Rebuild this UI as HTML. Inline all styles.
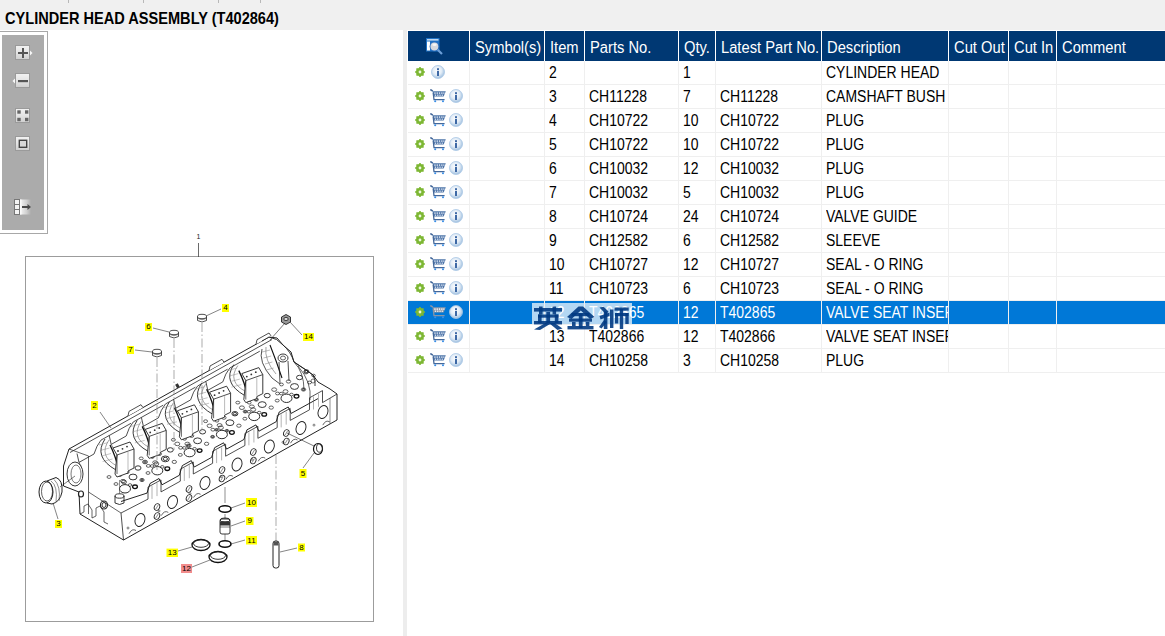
<!DOCTYPE html><html><head><meta charset="utf-8"><style>

*{margin:0;padding:0;box-sizing:border-box}
html,body{width:1165px;height:636px;overflow:hidden;background:#fff;font-family:"Liberation Sans",sans-serif;position:relative}
.abs{position:absolute}
#titlebar{left:0;top:0;width:1165px;height:30px;background:#f0f0f0}
.tick{position:absolute;top:0;width:1px;height:3px;background:#b8b8b8}
#title{position:absolute;left:5px;top:9px;font-size:16.5px;font-weight:bold;color:#000;white-space:nowrap;transform:scaleX(0.883);transform-origin:0 0}
#leftpanel{left:0;top:30px;width:403px;height:606px;background:#fff}
#divider{left:403px;top:30px;width:4px;height:606px;background:#ededed}
#rightpanel{left:407px;top:30px;width:758px;height:606px;background:#fff}
#tbout{left:0;top:31px;width:48px;height:203px;border:1px solid #a8a8a8;border-left:none;background:#fff}
#tbin{left:2px;top:35px;width:42px;height:195px;background:#ababab}
.hdr{position:absolute;top:31px;height:30px;background:#003873;color:#fff;font-size:14.5px;white-space:nowrap;overflow:hidden}
.hdr span{position:absolute;left:5px;top:7.5px;font-size:16px;transform:scaleX(0.92);transform-origin:0 0}
.vl{position:absolute;width:1px;background:#efefef}
.hl{position:absolute;height:1px;background:#efefef}
.cell{position:absolute;height:23px;font-size:14.5px;color:#000;white-space:nowrap;overflow:hidden;line-height:23px}
.cell span{position:absolute;left:5px;top:-0.5px;font-size:15.8px;transform:scaleX(0.885);transform-origin:0 0}
.sel{position:absolute;left:408px;width:757px;height:23px;background:#0078d7}
.ic{position:absolute;line-height:0}
.ic svg{display:block}

</style></head><body>
<svg width="0" height="0" style="position:absolute"><defs><radialGradient id="ig" cx="45%" cy="40%" r="60%"><stop offset="0" stop-color="#ffffff"/><stop offset=".55" stop-color="#e2ecf6"/><stop offset="1" stop-color="#9fbfdf"/></radialGradient></defs></svg>
<div id="titlebar" class="abs">
<div class="tick" style="left:68px"></div>
<div class="tick" style="left:143px"></div>
<div class="tick" style="left:218px"></div>
<div class="tick" style="left:260px"></div>
<div id="title">CYLINDER HEAD ASSEMBLY (T402864)</div></div>
<div id="leftpanel" class="abs"></div><div id="divider" class="abs"></div><div id="rightpanel" class="abs"></div>
<div id="tbout" class="abs"></div><div id="tbin" class="abs"></div>

<svg class="abs" style="left:0;top:30px" width="48" height="205" viewBox="0 30 48 205">
<defs>
<linearGradient id="tbg" x1="0" y1="0" x2="0" y2="1"><stop offset="0" stop-color="#f2f2f2"/><stop offset="0.5" stop-color="#e4e4e4"/><stop offset="1" stop-color="#cfcfcf"/></linearGradient>
<linearGradient id="arg" x1="0" y1="0" x2="1" y2="0"><stop offset="0" stop-color="#f4f4f4"/><stop offset="0.6" stop-color="#d0d0d0"/><stop offset="1" stop-color="#ababab"/></linearGradient>
</defs>
<rect x="15.5" y="45.5" width="14" height="14" fill="url(#tbg)" stroke="#9a9a9a" stroke-width="1"/>
<path d="M30,50.5 L32.5,53 L30,55.5 Z" fill="#f8f8f8"/>
<rect x="18" y="52" width="10" height="2" fill="#555"/><rect x="22" y="48" width="2" height="10" fill="#555"/>
<rect x="15.5" y="73.5" width="14" height="14" fill="url(#tbg)" stroke="#9a9a9a" stroke-width="1"/>
<path d="M15,78.5 L12.5,81 L15,83.5 Z" fill="#f8f8f8"/>
<rect x="18" y="80" width="10" height="2.2" fill="#555"/>
<rect x="15.5" y="108.5" width="14" height="14" fill="url(#tbg)" stroke="#9a9a9a" stroke-width="1"/>
<rect x="17.3" y="110.3" width="3.4" height="3.4" fill="#666"/><rect x="25" y="110.3" width="3.4" height="3.4" fill="#666"/>
<rect x="17.3" y="117.8" width="3.4" height="3.4" fill="#666"/><rect x="25" y="117.8" width="3.4" height="3.4" fill="#666"/>
<rect x="15.5" y="136.5" width="14" height="14" fill="url(#tbg)" stroke="#9a9a9a" stroke-width="1"/>
<rect x="19.3" y="140.3" width="7.4" height="7" fill="#d8d8d8" stroke="#444" stroke-width="1.4"/>
<rect x="14.5" y="199.5" width="5" height="15" fill="#f4f4f4" stroke="#777" stroke-width="1"/>
<line x1="14.5" y1="204.5" x2="19.5" y2="204.5" stroke="#777"/><line x1="14.5" y1="209.5" x2="19.5" y2="209.5" stroke="#777"/>
<rect x="20" y="199.5" width="11" height="15" fill="url(#arg)"/>
<rect x="20" y="199.5" width="1.5" height="15" fill="#fafafa"/>
<rect x="22" y="206" width="6" height="2" fill="#4a4a4a"/><path d="M27.5,204 L31,207 L27.5,210 Z" fill="#4a4a4a"/>
</svg>

<svg class="abs" style="left:0;top:0" width="403" height="636" viewBox="0 0 403 636"><rect x="25.5" y="256.5" width="348" height="365" fill="none" stroke="#9c9c9c" stroke-width="1"/><text x="198.5" y="238.5" font-size="7" text-anchor="middle" fill="#222" font-family="Liberation Sans">1</text><line x1="198.5" y1="243" x2="198.5" y2="257" stroke="#444" stroke-width="0.8" /><polygon points="69,449 63.5,466 63.5,486 79,492 80,514 123.5,540 337,420 337,394 330,389 318,382 313,375 306,370 294,362 291,352 283,345 277,338 269,337 69,449" fill="#fff" stroke="#222" stroke-width="1.0"/><line x1="70" y1="452.5" x2="272" y2="339.5" stroke="#222" stroke-width="0.8" /><polyline points="121,501.5 147,493.1 150,483.5 159,478.5 162,484.8 179.3,475.3 182.3,465.6 191.3,460.6 194.3,467 211.6,457.4 214.6,447.7 223.6,442.8 226.6,449.1 243.9,439.5 246.9,429.9 255.9,424.9 258.9,431.2 276.2,421.7 279.2,412 288.2,407 291.2,413.4 318,398.6" fill="none" stroke="#1a1a1a" stroke-width="0.95"/><polyline points="121,513 148,499.1 148,487.1 161,479.9 161,491.9 180.3,481.2 180.3,469.2 193.3,462 193.3,474 212.6,463.3 212.6,451.3 225.6,444.2 225.6,456.2 244.9,445.5 244.9,433.5 257.9,426.3 257.9,438.3 277.2,427.6 277.2,415.6 290.2,408.4 290.2,420.4 309.5,409.8 309.5,397.8 322.5,390.6 322.5,402.6 337,394" fill="none" stroke="#222" stroke-width="0.8"/><line x1="152" y1="485.9" x2="152" y2="498.9" stroke="#666" stroke-width="0.5" /><line x1="157" y1="483.1" x2="157" y2="496.1" stroke="#666" stroke-width="0.5" /><line x1="184.3" y1="468" x2="184.3" y2="481" stroke="#666" stroke-width="0.5" /><line x1="189.3" y1="465.2" x2="189.3" y2="478.2" stroke="#666" stroke-width="0.5" /><line x1="216.6" y1="450.1" x2="216.6" y2="463.1" stroke="#666" stroke-width="0.5" /><line x1="221.6" y1="447.4" x2="221.6" y2="460.4" stroke="#666" stroke-width="0.5" /><line x1="248.9" y1="432.3" x2="248.9" y2="445.3" stroke="#666" stroke-width="0.5" /><line x1="253.9" y1="429.5" x2="253.9" y2="442.5" stroke="#666" stroke-width="0.5" /><line x1="281.2" y1="414.4" x2="281.2" y2="427.4" stroke="#666" stroke-width="0.5" /><line x1="286.2" y1="411.6" x2="286.2" y2="424.6" stroke="#666" stroke-width="0.5" /><line x1="313.5" y1="396.5" x2="313.5" y2="409.5" stroke="#666" stroke-width="0.5" /><line x1="318.5" y1="393.8" x2="318.5" y2="406.8" stroke="#666" stroke-width="0.5" /><path d="M129,533.7 Q132,528 136,530.5" fill="none" stroke="#222" stroke-width="0.7"/><path d="M161.3,515.6 Q164.3,509.9 168.3,512.4" fill="none" stroke="#222" stroke-width="0.7"/><path d="M193.6,497.5 Q196.6,491.8 200.6,494.3" fill="none" stroke="#222" stroke-width="0.7"/><path d="M225.9,479.4 Q228.9,473.7 232.9,476.2" fill="none" stroke="#222" stroke-width="0.7"/><path d="M258.2,461.3 Q261.2,455.6 265.2,458.1" fill="none" stroke="#222" stroke-width="0.7"/><path d="M290.5,443.2 Q293.5,437.5 297.5,440" fill="none" stroke="#222" stroke-width="0.7"/><path d="M322.8,425.1 Q325.8,419.4 329.8,421.9" fill="none" stroke="#222" stroke-width="0.7"/><line x1="121" y1="513" x2="123.5" y2="540" stroke="#222" stroke-width="0.8" /><line x1="88.5" y1="456" x2="88.5" y2="514" stroke="#222" stroke-width="0.7" /><line x1="69" y1="449" x2="88.5" y2="456" stroke="#222" stroke-width="0.7" /><polyline points="80,514 84,512 84,506 88,504 92,510 92,518 96,516 96,508 100,506 104,512 104,522 108,524" fill="none" stroke="#222" stroke-width="0.7"/><line x1="88.5" y1="492" x2="121" y2="513" stroke="#222" stroke-width="0.7" /><ellipse cx="81" cy="494" rx="2.5" ry="3" fill="#fff" stroke="#222" stroke-width="1.2"/><ellipse cx="104" cy="505" rx="3.5" ry="4" fill="none" stroke="#222" stroke-width="1.1"/><ellipse cx="104" cy="505" rx="2" ry="2.5" fill="none" stroke="#222" stroke-width="0.9"/><ellipse cx="75" cy="474" rx="8" ry="12" fill="none" stroke="#222" stroke-width="0.9"/><ellipse cx="76" cy="474" rx="5" ry="9" fill="none" stroke="#222" stroke-width="0.6"/><ellipse cx="140" cy="520" rx="4.8" ry="6.6" transform="rotate(20 140 520)" fill="none" stroke="#222" stroke-width="0.95"/><ellipse cx="172.5" cy="502" rx="4.8" ry="6.6" transform="rotate(20 172.5 502)" fill="none" stroke="#222" stroke-width="0.95"/><ellipse cx="205" cy="483" rx="4.8" ry="6.6" transform="rotate(20 205 483)" fill="none" stroke="#222" stroke-width="0.95"/><ellipse cx="237" cy="464.5" rx="4.8" ry="6.6" transform="rotate(20 237 464.5)" fill="none" stroke="#222" stroke-width="0.95"/><ellipse cx="269.3" cy="446.5" rx="4.8" ry="6.6" transform="rotate(20 269.3 446.5)" fill="none" stroke="#222" stroke-width="0.95"/><ellipse cx="301" cy="428" rx="4.8" ry="6.6" transform="rotate(20 301 428)" fill="none" stroke="#222" stroke-width="0.95"/><ellipse cx="323" cy="412" rx="4.8" ry="6.6" transform="rotate(20 323 412)" fill="none" stroke="#222" stroke-width="0.95"/><ellipse cx="157" cy="507" rx="2.6" ry="3.4" transform="rotate(25 157 507)" fill="none" stroke="#222" stroke-width="0.9"/><line x1="155.8" y1="509" x2="158.2" y2="505" stroke="#444" stroke-width="0.6" /><ellipse cx="157" cy="516" rx="2.6" ry="3.4" transform="rotate(25 157 516)" fill="none" stroke="#222" stroke-width="0.9"/><line x1="155.8" y1="518" x2="158.2" y2="514" stroke="#444" stroke-width="0.6" /><ellipse cx="189" cy="489" rx="2.6" ry="3.4" transform="rotate(25 189 489)" fill="none" stroke="#222" stroke-width="0.9"/><line x1="187.8" y1="491" x2="190.2" y2="487" stroke="#444" stroke-width="0.6" /><ellipse cx="189" cy="498" rx="2.6" ry="3.4" transform="rotate(25 189 498)" fill="none" stroke="#222" stroke-width="0.9"/><line x1="187.8" y1="500" x2="190.2" y2="496" stroke="#444" stroke-width="0.6" /><ellipse cx="222" cy="470" rx="2.6" ry="3.4" transform="rotate(25 222 470)" fill="none" stroke="#222" stroke-width="0.9"/><line x1="220.8" y1="472" x2="223.2" y2="468" stroke="#444" stroke-width="0.6" /><ellipse cx="222" cy="478.5" rx="2.6" ry="3.4" transform="rotate(25 222 478.5)" fill="none" stroke="#222" stroke-width="0.9"/><line x1="220.8" y1="480.5" x2="223.2" y2="476.5" stroke="#444" stroke-width="0.6" /><ellipse cx="253.3" cy="452" rx="2.6" ry="3.4" transform="rotate(25 253.3 452)" fill="none" stroke="#222" stroke-width="0.9"/><line x1="252.1" y1="454" x2="254.5" y2="450" stroke="#444" stroke-width="0.6" /><ellipse cx="253.3" cy="460.5" rx="2.6" ry="3.4" transform="rotate(25 253.3 460.5)" fill="none" stroke="#222" stroke-width="0.9"/><line x1="252.1" y1="462.5" x2="254.5" y2="458.5" stroke="#444" stroke-width="0.6" /><ellipse cx="286.3" cy="433" rx="2.6" ry="3.4" transform="rotate(25 286.3 433)" fill="none" stroke="#222" stroke-width="0.9"/><line x1="285.1" y1="435" x2="287.5" y2="431" stroke="#444" stroke-width="0.6" /><ellipse cx="286.3" cy="441.5" rx="2.6" ry="3.4" transform="rotate(25 286.3 441.5)" fill="none" stroke="#222" stroke-width="0.9"/><line x1="285.1" y1="443.5" x2="287.5" y2="439.5" stroke="#444" stroke-width="0.6" /><circle cx="128" cy="528" r="1" fill="none" stroke="#333" stroke-width="0.6"/><circle cx="159" cy="510.9" r="1" fill="none" stroke="#333" stroke-width="0.6"/><circle cx="190" cy="493.7" r="1" fill="none" stroke="#333" stroke-width="0.6"/><circle cx="221" cy="476.6" r="1" fill="none" stroke="#333" stroke-width="0.6"/><circle cx="252" cy="459.4" r="1" fill="none" stroke="#333" stroke-width="0.6"/><circle cx="283" cy="442.3" r="1" fill="none" stroke="#333" stroke-width="0.6"/><circle cx="314" cy="425.1" r="1" fill="none" stroke="#333" stroke-width="0.6"/><ellipse cx="124" cy="482" rx="2.5" ry="1.8" fill="none" stroke="#222" stroke-width="0.7"/><ellipse cx="133" cy="477" rx="4" ry="2.9" fill="none" stroke="#222" stroke-width="0.9"/><ellipse cx="142" cy="480" rx="2.2" ry="1.6" fill="none" stroke="#222" stroke-width="0.7"/><ellipse cx="142" cy="480" rx="1.3" ry="0.9" fill="none" stroke="#222" stroke-width="0.9"/><ellipse cx="127" cy="472" rx="2.2" ry="1.6" fill="none" stroke="#222" stroke-width="0.7"/><ellipse cx="138" cy="468" rx="3" ry="2.2" fill="none" stroke="#222" stroke-width="0.9"/><ellipse cx="148" cy="473" rx="2" ry="1.4" fill="none" stroke="#222" stroke-width="0.7"/><ellipse cx="120" cy="475" rx="1.9" ry="1.4" fill="none" stroke="#222" stroke-width="0.7"/><ellipse cx="145" cy="462" rx="2.5" ry="1.8" fill="none" stroke="#222" stroke-width="0.7"/><ellipse cx="145" cy="462" rx="1.4" ry="1" fill="none" stroke="#222" stroke-width="0.9"/><ellipse cx="116" cy="484" rx="2" ry="1.4" fill="none" stroke="#222" stroke-width="0.7"/><ellipse cx="130" cy="485" rx="1.8" ry="1.3" fill="none" stroke="#222" stroke-width="0.7"/><ellipse cx="152" cy="466" rx="1.8" ry="1.3" fill="none" stroke="#222" stroke-width="0.7"/><ellipse cx="156.3" cy="463.9" rx="2.5" ry="1.8" fill="none" stroke="#222" stroke-width="0.7"/><ellipse cx="165.3" cy="458.9" rx="4" ry="2.9" fill="none" stroke="#222" stroke-width="0.9"/><ellipse cx="165.3" cy="458.9" rx="2.2" ry="1.6" fill="none" stroke="#222" stroke-width="0.9"/><ellipse cx="174.3" cy="461.9" rx="2.2" ry="1.6" fill="none" stroke="#222" stroke-width="0.7"/><ellipse cx="159.3" cy="453.9" rx="2.2" ry="1.6" fill="none" stroke="#222" stroke-width="0.7"/><ellipse cx="170.3" cy="449.9" rx="3" ry="2.2" fill="none" stroke="#222" stroke-width="0.9"/><ellipse cx="180.3" cy="454.9" rx="2" ry="1.4" fill="none" stroke="#222" stroke-width="0.7"/><ellipse cx="152.3" cy="456.9" rx="1.9" ry="1.4" fill="none" stroke="#222" stroke-width="0.7"/><ellipse cx="152.3" cy="456.9" rx="1" ry="0.8" fill="none" stroke="#222" stroke-width="0.9"/><ellipse cx="177.3" cy="443.9" rx="2.5" ry="1.8" fill="none" stroke="#222" stroke-width="0.7"/><ellipse cx="148.3" cy="465.9" rx="2" ry="1.4" fill="none" stroke="#222" stroke-width="0.7"/><ellipse cx="162.3" cy="466.9" rx="1.8" ry="1.3" fill="none" stroke="#222" stroke-width="0.7"/><ellipse cx="184.3" cy="447.9" rx="1.8" ry="1.3" fill="none" stroke="#222" stroke-width="0.7"/><ellipse cx="188.6" cy="445.8" rx="2.5" ry="1.8" fill="none" stroke="#222" stroke-width="0.7"/><ellipse cx="188.6" cy="445.8" rx="1.4" ry="1" fill="none" stroke="#222" stroke-width="0.9"/><ellipse cx="197.6" cy="440.8" rx="4" ry="2.9" fill="none" stroke="#222" stroke-width="0.9"/><ellipse cx="206.6" cy="443.8" rx="2.2" ry="1.6" fill="none" stroke="#222" stroke-width="0.7"/><ellipse cx="191.6" cy="435.8" rx="2.2" ry="1.6" fill="none" stroke="#222" stroke-width="0.7"/><ellipse cx="202.6" cy="431.8" rx="3" ry="2.2" fill="none" stroke="#222" stroke-width="0.9"/><ellipse cx="212.6" cy="436.8" rx="2" ry="1.4" fill="none" stroke="#222" stroke-width="0.7"/><ellipse cx="212.6" cy="436.8" rx="1.1" ry="0.8" fill="none" stroke="#222" stroke-width="0.9"/><ellipse cx="184.6" cy="438.8" rx="1.9" ry="1.4" fill="none" stroke="#222" stroke-width="0.7"/><ellipse cx="209.6" cy="425.8" rx="2.5" ry="1.8" fill="none" stroke="#222" stroke-width="0.7"/><ellipse cx="180.6" cy="447.8" rx="2" ry="1.4" fill="none" stroke="#222" stroke-width="0.7"/><ellipse cx="194.6" cy="448.8" rx="1.8" ry="1.3" fill="none" stroke="#222" stroke-width="0.7"/><ellipse cx="216.6" cy="429.8" rx="1.8" ry="1.3" fill="none" stroke="#222" stroke-width="0.7"/><ellipse cx="216.6" cy="429.8" rx="1" ry="0.7" fill="none" stroke="#222" stroke-width="0.9"/><ellipse cx="220.9" cy="427.7" rx="2.5" ry="1.8" fill="none" stroke="#222" stroke-width="0.7"/><ellipse cx="229.9" cy="422.7" rx="4" ry="2.9" fill="none" stroke="#222" stroke-width="0.9"/><ellipse cx="238.9" cy="425.7" rx="2.2" ry="1.6" fill="none" stroke="#222" stroke-width="0.7"/><ellipse cx="223.9" cy="417.7" rx="2.2" ry="1.6" fill="none" stroke="#222" stroke-width="0.7"/><ellipse cx="234.9" cy="413.7" rx="3" ry="2.2" fill="none" stroke="#222" stroke-width="0.9"/><ellipse cx="234.9" cy="413.7" rx="1.7" ry="1.2" fill="none" stroke="#222" stroke-width="0.9"/><ellipse cx="244.9" cy="418.7" rx="2" ry="1.4" fill="none" stroke="#222" stroke-width="0.7"/><ellipse cx="216.9" cy="420.7" rx="1.9" ry="1.4" fill="none" stroke="#222" stroke-width="0.7"/><ellipse cx="241.9" cy="407.7" rx="2.5" ry="1.8" fill="none" stroke="#222" stroke-width="0.7"/><ellipse cx="212.9" cy="429.7" rx="2" ry="1.4" fill="none" stroke="#222" stroke-width="0.7"/><ellipse cx="226.9" cy="430.7" rx="1.8" ry="1.3" fill="none" stroke="#222" stroke-width="0.7"/><ellipse cx="226.9" cy="430.7" rx="1" ry="0.7" fill="none" stroke="#222" stroke-width="0.9"/><ellipse cx="248.9" cy="411.7" rx="1.8" ry="1.3" fill="none" stroke="#222" stroke-width="0.7"/><ellipse cx="253.2" cy="409.6" rx="2.5" ry="1.8" fill="none" stroke="#222" stroke-width="0.7"/><ellipse cx="262.2" cy="404.6" rx="4" ry="2.9" fill="none" stroke="#222" stroke-width="0.9"/><ellipse cx="271.2" cy="407.6" rx="2.2" ry="1.6" fill="none" stroke="#222" stroke-width="0.7"/><ellipse cx="256.2" cy="399.6" rx="2.2" ry="1.6" fill="none" stroke="#222" stroke-width="0.7"/><ellipse cx="256.2" cy="399.6" rx="1.3" ry="0.9" fill="none" stroke="#222" stroke-width="0.9"/><ellipse cx="267.2" cy="395.6" rx="3" ry="2.2" fill="none" stroke="#222" stroke-width="0.9"/><ellipse cx="277.2" cy="400.6" rx="2" ry="1.4" fill="none" stroke="#222" stroke-width="0.7"/><ellipse cx="249.2" cy="402.6" rx="1.9" ry="1.4" fill="none" stroke="#222" stroke-width="0.7"/><ellipse cx="274.2" cy="389.6" rx="2.5" ry="1.8" fill="none" stroke="#222" stroke-width="0.7"/><ellipse cx="245.2" cy="411.6" rx="2" ry="1.4" fill="none" stroke="#222" stroke-width="0.7"/><ellipse cx="245.2" cy="411.6" rx="1.1" ry="0.8" fill="none" stroke="#222" stroke-width="0.9"/><ellipse cx="259.2" cy="412.6" rx="1.8" ry="1.3" fill="none" stroke="#222" stroke-width="0.7"/><ellipse cx="281.2" cy="393.6" rx="1.8" ry="1.3" fill="none" stroke="#222" stroke-width="0.7"/><ellipse cx="285.5" cy="391.5" rx="2.5" ry="1.8" fill="none" stroke="#222" stroke-width="0.7"/><ellipse cx="294.5" cy="386.5" rx="4" ry="2.9" fill="none" stroke="#222" stroke-width="0.9"/><ellipse cx="303.5" cy="389.5" rx="2.2" ry="1.6" fill="none" stroke="#222" stroke-width="0.7"/><ellipse cx="303.5" cy="389.5" rx="1.3" ry="0.9" fill="none" stroke="#222" stroke-width="0.9"/><ellipse cx="288.5" cy="381.5" rx="2.2" ry="1.6" fill="none" stroke="#222" stroke-width="0.7"/><ellipse cx="299.5" cy="377.5" rx="3" ry="2.2" fill="none" stroke="#222" stroke-width="0.9"/><ellipse cx="309.5" cy="382.5" rx="2" ry="1.4" fill="none" stroke="#222" stroke-width="0.7"/><ellipse cx="281.5" cy="384.5" rx="1.9" ry="1.4" fill="none" stroke="#222" stroke-width="0.7"/><ellipse cx="306.5" cy="371.5" rx="2.5" ry="1.8" fill="none" stroke="#222" stroke-width="0.7"/><ellipse cx="306.5" cy="371.5" rx="1.4" ry="1" fill="none" stroke="#222" stroke-width="0.9"/><ellipse cx="277.5" cy="393.5" rx="2" ry="1.4" fill="none" stroke="#222" stroke-width="0.7"/><ellipse cx="291.5" cy="394.5" rx="1.8" ry="1.3" fill="none" stroke="#222" stroke-width="0.7"/><ellipse cx="313.5" cy="375.5" rx="1.8" ry="1.3" fill="none" stroke="#222" stroke-width="0.7"/><ellipse cx="125" cy="488.8" rx="5.5" ry="4.2" fill="#fff" stroke="#222" stroke-width="0.95"/><ellipse cx="135" cy="486.8" rx="2.4" ry="1.8" fill="#fff" stroke="#111" stroke-width="1.3"/><ellipse cx="157.3" cy="470.7" rx="5.5" ry="4.2" fill="#fff" stroke="#222" stroke-width="0.95"/><ellipse cx="167.3" cy="468.7" rx="2.4" ry="1.8" fill="#fff" stroke="#111" stroke-width="1.3"/><ellipse cx="189.6" cy="452.6" rx="5.5" ry="4.2" fill="#fff" stroke="#222" stroke-width="0.95"/><ellipse cx="199.6" cy="450.6" rx="2.4" ry="1.8" fill="#fff" stroke="#111" stroke-width="1.3"/><ellipse cx="221.9" cy="434.5" rx="5.5" ry="4.2" fill="#fff" stroke="#222" stroke-width="0.95"/><ellipse cx="231.9" cy="432.5" rx="2.4" ry="1.8" fill="#fff" stroke="#111" stroke-width="1.3"/><ellipse cx="254.2" cy="416.4" rx="5.5" ry="4.2" fill="#fff" stroke="#222" stroke-width="0.95"/><ellipse cx="264.2" cy="414.4" rx="2.4" ry="1.8" fill="#fff" stroke="#111" stroke-width="1.3"/><ellipse cx="286.5" cy="398.3" rx="5.5" ry="4.2" fill="#fff" stroke="#222" stroke-width="0.95"/><ellipse cx="296.5" cy="396.3" rx="2.4" ry="1.8" fill="#fff" stroke="#111" stroke-width="1.3"/><polyline points="77,453.5 79,462.4 94,454 97,446.3 101,440.1 131,423.3" fill="none" stroke="#222" stroke-width="0.8"/><line x1="79" y1="462.4" x2="81" y2="466.3" stroke="#222" stroke-width="0.6" /><path d="M105,439 Q93,457 116,470" fill="none" stroke="#222" stroke-width="0.9"/><path d="M109,440 Q98,456 117,466" fill="none" stroke="#666" stroke-width="0.6"/><path d="M110,445 Q116,457 118,468" fill="none" stroke="#111" stroke-width="1.3"/><line x1="99" y1="445" x2="108" y2="442.5" stroke="#888" stroke-width="0.5" /><line x1="100.2" y1="450.5" x2="109.5" y2="448" stroke="#888" stroke-width="0.5" /><line x1="101.4" y1="456" x2="111" y2="453.5" stroke="#888" stroke-width="0.5" /><line x1="102.6" y1="461.5" x2="112.5" y2="459" stroke="#888" stroke-width="0.5" /><polygon points="117,455 113,448 130,442 134,449 134,468 128,471 128,473 117,477 115,474" fill="#fff" stroke="#222" stroke-width="0.9"/><line x1="117" y1="455" x2="134" y2="449" stroke="#222" stroke-width="0.8" /><line x1="117" y1="455" x2="117" y2="474" stroke="#222" stroke-width="0.7" /><line x1="128" y1="452" x2="128" y2="470" stroke="#777" stroke-width="0.5" /><circle cx="118" cy="451" r="0.9" fill="#333"/><circle cx="122.5" cy="448.8" r="0.9" fill="#333"/><circle cx="127" cy="446.6" r="0.9" fill="#333"/><ellipse cx="123" cy="481" rx="2.5" ry="1.6" fill="none" stroke="#222" stroke-width="0.7"/><ellipse cx="109" cy="477" rx="2" ry="1.4" fill="none" stroke="#222" stroke-width="0.7"/><polyline points="109.2,435.5 111.2,444.4 126.2,436 129.2,428.3 133.2,422 163.2,405.2" fill="none" stroke="#222" stroke-width="0.8"/><line x1="111.2" y1="444.4" x2="113.2" y2="448.2" stroke="#222" stroke-width="0.6" /><path d="M137.2,420.4 Q125.2,438.4 148.2,451.4" fill="none" stroke="#222" stroke-width="0.9"/><path d="M141.2,421.4 Q130.2,437.4 149.2,447.4" fill="none" stroke="#666" stroke-width="0.6"/><path d="M142.2,426.4 Q148.2,438.4 150.2,449.4" fill="none" stroke="#111" stroke-width="1.3"/><line x1="131.2" y1="426.4" x2="140.2" y2="423.9" stroke="#888" stroke-width="0.5" /><line x1="132.4" y1="431.9" x2="141.7" y2="429.4" stroke="#888" stroke-width="0.5" /><line x1="133.6" y1="437.4" x2="143.2" y2="434.9" stroke="#888" stroke-width="0.5" /><line x1="134.8" y1="442.9" x2="144.7" y2="440.4" stroke="#888" stroke-width="0.5" /><polygon points="149.2,436.4 145.2,429.4 162.2,423.4 166.2,430.4 166.2,449.4 160.2,452.4 160.2,454.4 149.2,458.4 147.2,455.4" fill="#fff" stroke="#222" stroke-width="0.9"/><line x1="149.2" y1="436.4" x2="166.2" y2="430.4" stroke="#222" stroke-width="0.8" /><line x1="149.2" y1="436.4" x2="149.2" y2="455.4" stroke="#222" stroke-width="0.7" /><line x1="160.2" y1="433.4" x2="160.2" y2="451.4" stroke="#777" stroke-width="0.5" /><circle cx="150.2" cy="432.4" r="0.9" fill="#333"/><circle cx="154.7" cy="430.2" r="0.9" fill="#333"/><circle cx="159.2" cy="428" r="0.9" fill="#333"/><ellipse cx="155.2" cy="462.4" rx="2.5" ry="1.6" fill="none" stroke="#222" stroke-width="0.7"/><ellipse cx="141.2" cy="458.4" rx="2" ry="1.4" fill="none" stroke="#222" stroke-width="0.7"/><polyline points="141.4,417.5 143.4,426.3 158.4,417.9 161.4,410.3 165.4,404 195.4,387.2" fill="none" stroke="#222" stroke-width="0.8"/><line x1="143.4" y1="426.3" x2="145.4" y2="430.2" stroke="#222" stroke-width="0.6" /><path d="M169.4,401.8 Q157.4,419.8 180.4,432.8" fill="none" stroke="#222" stroke-width="0.9"/><path d="M173.4,402.8 Q162.4,418.8 181.4,428.8" fill="none" stroke="#666" stroke-width="0.6"/><path d="M174.4,407.8 Q180.4,419.8 182.4,430.8" fill="none" stroke="#111" stroke-width="1.3"/><line x1="163.4" y1="407.8" x2="172.4" y2="405.3" stroke="#888" stroke-width="0.5" /><line x1="164.6" y1="413.3" x2="173.9" y2="410.8" stroke="#888" stroke-width="0.5" /><line x1="165.8" y1="418.8" x2="175.4" y2="416.3" stroke="#888" stroke-width="0.5" /><line x1="167" y1="424.3" x2="176.9" y2="421.8" stroke="#888" stroke-width="0.5" /><polygon points="181.4,417.8 177.4,410.8 194.4,404.8 198.4,411.8 198.4,430.8 192.4,433.8 192.4,435.8 181.4,439.8 179.4,436.8" fill="#fff" stroke="#222" stroke-width="0.9"/><line x1="181.4" y1="417.8" x2="198.4" y2="411.8" stroke="#222" stroke-width="0.8" /><line x1="181.4" y1="417.8" x2="181.4" y2="436.8" stroke="#222" stroke-width="0.7" /><line x1="192.4" y1="414.8" x2="192.4" y2="432.8" stroke="#777" stroke-width="0.5" /><circle cx="182.4" cy="413.8" r="0.9" fill="#333"/><circle cx="186.9" cy="411.6" r="0.9" fill="#333"/><circle cx="191.4" cy="409.4" r="0.9" fill="#333"/><ellipse cx="187.4" cy="443.8" rx="2.5" ry="1.6" fill="none" stroke="#222" stroke-width="0.7"/><ellipse cx="173.4" cy="439.8" rx="2" ry="1.4" fill="none" stroke="#222" stroke-width="0.7"/><polyline points="173.6,399.4 175.6,408.3 190.6,399.9 193.6,392.2 197.6,386 227.6,369.2" fill="none" stroke="#222" stroke-width="0.8"/><line x1="175.6" y1="408.3" x2="177.6" y2="412.2" stroke="#222" stroke-width="0.6" /><path d="M201.6,383.2 Q189.6,401.2 212.6,414.2" fill="none" stroke="#222" stroke-width="0.9"/><path d="M205.6,384.2 Q194.6,400.2 213.6,410.2" fill="none" stroke="#666" stroke-width="0.6"/><path d="M206.6,389.2 Q212.6,401.2 214.6,412.2" fill="none" stroke="#111" stroke-width="1.3"/><line x1="195.6" y1="389.2" x2="204.6" y2="386.7" stroke="#888" stroke-width="0.5" /><line x1="196.8" y1="394.7" x2="206.1" y2="392.2" stroke="#888" stroke-width="0.5" /><line x1="198" y1="400.2" x2="207.6" y2="397.7" stroke="#888" stroke-width="0.5" /><line x1="199.2" y1="405.7" x2="209.1" y2="403.2" stroke="#888" stroke-width="0.5" /><polygon points="213.6,399.2 209.6,392.2 226.6,386.2 230.6,393.2 230.6,412.2 224.6,415.2 224.6,417.2 213.6,421.2 211.6,418.2" fill="#fff" stroke="#222" stroke-width="0.9"/><line x1="213.6" y1="399.2" x2="230.6" y2="393.2" stroke="#222" stroke-width="0.8" /><line x1="213.6" y1="399.2" x2="213.6" y2="418.2" stroke="#222" stroke-width="0.7" /><line x1="224.6" y1="396.2" x2="224.6" y2="414.2" stroke="#777" stroke-width="0.5" /><circle cx="214.6" cy="395.2" r="0.9" fill="#333"/><circle cx="219.1" cy="393" r="0.9" fill="#333"/><circle cx="223.6" cy="390.8" r="0.9" fill="#333"/><ellipse cx="219.6" cy="425.2" rx="2.5" ry="1.6" fill="none" stroke="#222" stroke-width="0.7"/><ellipse cx="205.6" cy="421.2" rx="2" ry="1.4" fill="none" stroke="#222" stroke-width="0.7"/><polyline points="205.8,381.4 207.8,390.3 222.8,381.9 225.8,374.2 229.8,368 259.8,351.2" fill="none" stroke="#222" stroke-width="0.8"/><line x1="207.8" y1="390.3" x2="209.8" y2="394.2" stroke="#222" stroke-width="0.6" /><path d="M233.8,364.6 Q221.8,382.6 244.8,395.6" fill="none" stroke="#222" stroke-width="0.9"/><path d="M237.8,365.6 Q226.8,381.6 245.8,391.6" fill="none" stroke="#666" stroke-width="0.6"/><path d="M238.8,370.6 Q244.8,382.6 246.8,393.6" fill="none" stroke="#111" stroke-width="1.3"/><line x1="227.8" y1="370.6" x2="236.8" y2="368.1" stroke="#888" stroke-width="0.5" /><line x1="229" y1="376.1" x2="238.3" y2="373.6" stroke="#888" stroke-width="0.5" /><line x1="230.2" y1="381.6" x2="239.8" y2="379.1" stroke="#888" stroke-width="0.5" /><line x1="231.4" y1="387.1" x2="241.3" y2="384.6" stroke="#888" stroke-width="0.5" /><polygon points="245.8,380.6 241.8,373.6 258.8,367.6 262.8,374.6 262.8,393.6 256.8,396.6 256.8,398.6 245.8,402.6 243.8,399.6" fill="#fff" stroke="#222" stroke-width="0.9"/><line x1="245.8" y1="380.6" x2="262.8" y2="374.6" stroke="#222" stroke-width="0.8" /><line x1="245.8" y1="380.6" x2="245.8" y2="399.6" stroke="#222" stroke-width="0.7" /><line x1="256.8" y1="377.6" x2="256.8" y2="395.6" stroke="#777" stroke-width="0.5" /><circle cx="246.8" cy="376.6" r="0.9" fill="#333"/><circle cx="251.3" cy="374.4" r="0.9" fill="#333"/><circle cx="255.8" cy="372.2" r="0.9" fill="#333"/><ellipse cx="251.8" cy="406.6" rx="2.5" ry="1.6" fill="none" stroke="#222" stroke-width="0.7"/><ellipse cx="237.8" cy="402.6" rx="2" ry="1.4" fill="none" stroke="#222" stroke-width="0.7"/><polyline points="128,416 129,411.4 141,404.7 143,407.6" fill="#fff" stroke="#222" stroke-width="0.8"/><polyline points="209,370.6 210,366 222,359.3 224,362.2" fill="#fff" stroke="#222" stroke-width="0.8"/><polyline points="256,344.3 257,339.7 269,333 271,335.9" fill="#fff" stroke="#222" stroke-width="0.8"/><rect x="176" y="384" width="3" height="4" fill="#333" transform="rotate(-30 177 386)"/><path d="M262,341 L269,337 Q277,338 283,345 Q291,352 294,362 Q300,366 306,370 L313,375 Q316,380 315,386" fill="none" stroke="#222" stroke-width="0.9"/><path d="M262,349 Q258,362 272,378 L280,384" fill="none" stroke="#222" stroke-width="0.8"/><path d="M266,347 Q264,360 276,374" fill="none" stroke="#666" stroke-width="0.6"/><line x1="262" y1="352" x2="270" y2="350" stroke="#777" stroke-width="0.5" /><line x1="263.5" y1="358" x2="271.2" y2="356" stroke="#777" stroke-width="0.5" /><line x1="265" y1="364" x2="272.4" y2="362" stroke="#777" stroke-width="0.5" /><line x1="266.5" y1="370" x2="273.6" y2="368" stroke="#777" stroke-width="0.5" /><path d="M270,345 Q276,360 282,378" fill="none" stroke="#111" stroke-width="1.1"/><ellipse cx="283" cy="358" rx="5" ry="4" fill="#fff" stroke="#222" stroke-width="0.9"/><ellipse cx="283" cy="358" rx="2.5" ry="2" fill="none" stroke="#222" stroke-width="0.7"/><line x1="279" y1="362" x2="280" y2="383" stroke="#222" stroke-width="0.8" /><line x1="288" y1="361" x2="289" y2="381" stroke="#222" stroke-width="0.8" /><path d="M294,362 Q304,372 304,390" fill="none" stroke="#222" stroke-width="0.7"/><path d="M298,366 Q312,382 310,400" fill="none" stroke="#222" stroke-width="0.7"/><ellipse cx="306" cy="372" rx="2" ry="2" fill="none" stroke="#222" stroke-width="0.6"/><ellipse cx="313" cy="381" rx="2" ry="2" fill="none" stroke="#222" stroke-width="0.6"/><line x1="330" y1="398" x2="330" y2="424" stroke="#444" stroke-width="0.6" /><ellipse cx="119.5" cy="496" rx="4.5" ry="2.2" fill="#fff" stroke="#222" stroke-width="0.9"/><line x1="115" y1="496" x2="115" y2="503" stroke="#222" stroke-width="0.9" /><line x1="124" y1="496" x2="124" y2="503" stroke="#222" stroke-width="0.9" /><path d="M115,503 Q119.5,506 124,503" fill="none" stroke="#222" stroke-width="0.9"/><line x1="119.5" y1="480" x2="119.5" y2="494" stroke="#444" stroke-width="0.6" /><ellipse cx="202" cy="316.5" rx="4.5" ry="2.2" fill="#fff" stroke="#222" stroke-width="0.8"/><path d="M198,318.5 Q202,321 206,318.5" fill="none" stroke="#444" stroke-width="0.6"/><line x1="197.5" y1="316.5" x2="197.5" y2="320.5" stroke="#222" stroke-width="0.8" /><line x1="206.5" y1="316.5" x2="206.5" y2="320.5" stroke="#222" stroke-width="0.8" /><path d="M197.5,320.5 Q202,323.5 206.5,320.5" fill="none" stroke="#222" stroke-width="0.8"/><ellipse cx="174" cy="332.5" rx="4.5" ry="2.2" fill="#fff" stroke="#222" stroke-width="0.8"/><path d="M170,334.5 Q174,337 178,334.5" fill="none" stroke="#444" stroke-width="0.6"/><line x1="169.5" y1="332.5" x2="169.5" y2="336.5" stroke="#222" stroke-width="0.8" /><line x1="178.5" y1="332.5" x2="178.5" y2="336.5" stroke="#222" stroke-width="0.8" /><path d="M169.5,336.5 Q174,339.5 178.5,336.5" fill="none" stroke="#222" stroke-width="0.8"/><ellipse cx="157" cy="351.5" rx="4.5" ry="2.2" fill="#fff" stroke="#222" stroke-width="0.8"/><path d="M153,353.5 Q157,356 161,353.5" fill="none" stroke="#444" stroke-width="0.6"/><line x1="152.5" y1="351.5" x2="152.5" y2="355.5" stroke="#222" stroke-width="0.8" /><line x1="161.5" y1="351.5" x2="161.5" y2="355.5" stroke="#222" stroke-width="0.8" /><path d="M152.5,355.5 Q157,358.5 161.5,355.5" fill="none" stroke="#222" stroke-width="0.8"/><line x1="202" y1="323" x2="202" y2="432" stroke="#888" stroke-width="0.7" stroke-dasharray="9,2.5,1.5,2.5"/><line x1="174" y1="339" x2="174" y2="450" stroke="#888" stroke-width="0.7" stroke-dasharray="9,2.5,1.5,2.5"/><line x1="157" y1="358" x2="157" y2="470" stroke="#888" stroke-width="0.7" stroke-dasharray="9,2.5,1.5,2.5"/><line x1="276" y1="455" x2="276" y2="541" stroke="#888" stroke-width="0.7" stroke-dasharray="9,2.5,1.5,2.5"/><line x1="225" y1="487" x2="225" y2="503" stroke="#444" stroke-width="0.6" /><line x1="225" y1="514" x2="225" y2="519" stroke="#444" stroke-width="0.6" /><line x1="225" y1="534" x2="225" y2="540" stroke="#444" stroke-width="0.6" /><polygon points="281.5,317 286,314.5 290.5,317 290.5,322 286,324.5 281.5,322" fill="#999" stroke="#222" stroke-width="0.9"/><ellipse cx="286" cy="319" rx="2.2" ry="1.6" fill="#ddd" stroke="#222" stroke-width="0.8"/><line x1="285" y1="323" x2="270" y2="340" stroke="#222" stroke-width="0.6" /><path d="M47,481 L56,477.5 Q63,480 62,492 Q60,502 52,504 L47,503" fill="#fff" stroke="#222" stroke-width="1.0"/><ellipse cx="46" cy="492" rx="7" ry="11" fill="#fff" stroke="#222" stroke-width="1.0"/><ellipse cx="47" cy="491.5" rx="5.5" ry="9.5" fill="none" stroke="#222" stroke-width="0.7"/><path d="M51,481 Q58,486 56,502" fill="none" stroke="#444" stroke-width="0.6"/><path d="M54,479.5 Q61,486 59,501" fill="none" stroke="#444" stroke-width="0.6"/><line x1="60" y1="487" x2="75" y2="476" stroke="#222" stroke-width="0.6" /><ellipse cx="318" cy="449" rx="4.5" ry="5.5" fill="#fff" stroke="#111" stroke-width="1.2"/><ellipse cx="319.5" cy="448" rx="3" ry="4.2" fill="none" stroke="#222" stroke-width="0.9"/><line x1="287" y1="433" x2="314" y2="446" stroke="#222" stroke-width="0.6" /><ellipse cx="225" cy="509" rx="6" ry="3.2" fill="none" stroke="#111" stroke-width="1.6"/><ellipse cx="225" cy="544" rx="6" ry="3.2" fill="none" stroke="#111" stroke-width="1.6"/><rect x="220" y="519" width="10" height="15" rx="2" fill="#fff" stroke="#222" stroke-width="0.9"/><ellipse cx="225" cy="520" rx="5" ry="2" fill="none" stroke="#222" stroke-width="1.0"/><rect x="220" y="521.5" width="10" height="4" fill="#333"/><line x1="220" y1="527" x2="230" y2="527" stroke="#222" stroke-width="0.6" /><ellipse cx="201" cy="545" rx="9" ry="5.5" fill="#fff" stroke="#111" stroke-width="1.3"/><ellipse cx="201" cy="543.5" rx="7.5" ry="3.8" fill="none" stroke="#222" stroke-width="0.9"/><ellipse cx="218" cy="557" rx="9" ry="5.5" fill="#fff" stroke="#111" stroke-width="1.3"/><ellipse cx="218" cy="555.5" rx="7.5" ry="3.8" fill="none" stroke="#222" stroke-width="0.9"/><rect x="273" y="541" width="6" height="27" rx="2.5" fill="#fff" stroke="#222" stroke-width="1"/><rect x="273.5" y="541.5" width="5" height="4" fill="#555"/><line x1="221" y1="309" x2="206" y2="316" stroke="#333" stroke-width="0.6" /><line x1="153" y1="328" x2="169" y2="332" stroke="#333" stroke-width="0.6" /><line x1="135" y1="350" x2="152" y2="352" stroke="#333" stroke-width="0.6" /><line x1="100" y1="412" x2="111" y2="428" stroke="#333" stroke-width="0.6" /><line x1="302" y1="335" x2="290" y2="322" stroke="#333" stroke-width="0.6" /><line x1="58" y1="519" x2="53" y2="503" stroke="#333" stroke-width="0.6" /><line x1="303" y1="468" x2="314" y2="453" stroke="#333" stroke-width="0.6" /><line x1="245" y1="503" x2="231" y2="508" stroke="#333" stroke-width="0.6" /><line x1="245" y1="521" x2="231" y2="526" stroke="#333" stroke-width="0.6" /><line x1="245" y1="540" x2="231" y2="544" stroke="#333" stroke-width="0.6" /><line x1="297" y1="548" x2="280" y2="552" stroke="#333" stroke-width="0.6" /><line x1="178" y1="551" x2="192" y2="547" stroke="#333" stroke-width="0.6" /><line x1="192" y1="567" x2="210" y2="560" stroke="#333" stroke-width="0.6" /><rect x="222" y="304" width="7" height="8" fill="#ffff00"/><text x="225.5" y="310.3" font-size="8" text-anchor="middle" fill="#000" font-family="Liberation Sans">4</text><rect x="145" y="323" width="7" height="8" fill="#ffff00"/><text x="148.5" y="329.3" font-size="8" text-anchor="middle" fill="#000" font-family="Liberation Sans">6</text><rect x="127" y="346" width="7" height="8" fill="#ffff00"/><text x="130.5" y="352.3" font-size="8" text-anchor="middle" fill="#000" font-family="Liberation Sans">7</text><rect x="91" y="401" width="7" height="9" fill="#ffff00"/><text x="94.5" y="408.3" font-size="8" text-anchor="middle" fill="#000" font-family="Liberation Sans">2</text><rect x="303" y="333" width="11" height="8" fill="#ffff00"/><text x="308.5" y="339.3" font-size="8" text-anchor="middle" fill="#000" font-family="Liberation Sans">14</text><rect x="55" y="520" width="7" height="8" fill="#ffff00"/><text x="58.5" y="526.3" font-size="8" text-anchor="middle" fill="#000" font-family="Liberation Sans">3</text><rect x="299.5" y="469" width="7" height="9" fill="#ffff00"/><text x="303" y="476.3" font-size="8" text-anchor="middle" fill="#000" font-family="Liberation Sans">5</text><rect x="246" y="498" width="11" height="9" fill="#ffff00"/><text x="251.5" y="505.3" font-size="8" text-anchor="middle" fill="#000" font-family="Liberation Sans">10</text><rect x="246" y="517" width="7.5" height="8" fill="#ffff00"/><text x="249.8" y="523.3" font-size="8" text-anchor="middle" fill="#000" font-family="Liberation Sans">9</text><rect x="246" y="536" width="11" height="8.5" fill="#ffff00"/><text x="251.5" y="542.8" font-size="8" text-anchor="middle" fill="#000" font-family="Liberation Sans">11</text><rect x="298" y="543.5" width="7" height="8" fill="#ffff00"/><text x="301.5" y="549.8" font-size="8" text-anchor="middle" fill="#000" font-family="Liberation Sans">8</text><rect x="166.5" y="548.6" width="11.5" height="8.4" fill="#ffff00"/><text x="172.2" y="555.3" font-size="8" text-anchor="middle" fill="#000" font-family="Liberation Sans">13</text><rect x="181" y="564" width="11" height="9" fill="#f28c8c"/><text x="186.5" y="571.3" font-size="8" text-anchor="middle" fill="#000" font-family="Liberation Sans">12</text></svg>
<div class="hdr" style="left:408px;width:61px"><span></span></div>
<div class="hdr" style="left:470px;width:74px"><span>Symbol(s)</span></div>
<div class="hdr" style="left:545px;width:39px"><span>Item</span></div>
<div class="hdr" style="left:585px;width:93px"><span>Parts No.</span></div>
<div class="hdr" style="left:679px;width:36px"><span>Qty.</span></div>
<div class="hdr" style="left:716px;width:105px"><span>Latest Part No.</span></div>
<div class="hdr" style="left:822px;width:126px"><span>Description</span></div>
<div class="hdr" style="left:949px;width:59px"><span>Cut Out</span></div>
<div class="hdr" style="left:1009px;width:47px"><span>Cut In</span></div>
<div class="hdr" style="left:1057px;width:108px"><span>Comment</span></div>

<svg class="abs" style="left:424px;top:36px" width="20" height="20" viewBox="424 36 20 20">
<rect x="426" y="38" width="13.5" height="13.5" fill="#1f72c6"/>
<rect x="427" y="39.2" width="11.5" height="1.3" fill="#e6f0fa"/>
<rect x="427" y="41.5" width="3" height="9" fill="#ffffff"/>
<line x1="437.5" y1="49.5" x2="442" y2="54" stroke="#6c9fd8" stroke-width="2.2"/>
<circle cx="434.4" cy="46.5" r="4.8" fill="#2a6fbf"/>
<circle cx="434.4" cy="46.5" r="3.9" fill="#d6d9de"/>
<ellipse cx="434.5" cy="44.8" rx="2.2" ry="1.2" fill="#f6f6f6"/>
</svg>

<div class="hl" style="left:408px;top:84px;width:757px"></div>
<div class="cell" style="left:544px;top:61px;width:40px;color:#000"><span>2</span></div>
<div class="cell" style="left:678px;top:61px;width:37px;color:#000"><span>1</span></div>
<div class="cell" style="left:821px;top:61px;width:127px;color:#000"><span>CYLINDER HEAD</span></div>
<div class="ic" style="left:415px;top:67px"><svg width="10" height="10" viewBox="0 0 10 10"><path d="M8.60,4.14 L9.94,4.22 L9.94,5.78 L8.60,5.86 L8.15,6.93 L9.05,7.94 L7.94,9.05 L6.93,8.15 L5.86,8.60 L5.78,9.94 L4.22,9.94 L4.14,8.60 L3.07,8.15 L2.06,9.05 L0.95,7.94 L1.85,6.93 L1.40,5.86 L0.06,5.78 L0.06,4.22 L1.40,4.14 L1.85,3.07 L0.95,2.06 L2.06,0.95 L3.07,1.85 L4.14,1.40 L4.22,0.06 L5.78,0.06 L5.86,1.40 L6.93,1.85 L7.94,0.95 L9.05,2.06 L8.15,3.07Z" fill="#7db733"/><circle cx="5" cy="5" r="3.9" fill="#7db733"/><circle cx="5" cy="5" r="1.4" fill="#eef8e0"/></svg></div>
<div class="ic" style="left:431px;top:65px"><svg width="14" height="14" viewBox="0 0 14 14"><circle cx="7" cy="7" r="6.5" fill="url(#ig)" stroke="#a8c6e4" stroke-width="0.8"/><rect x="6" y="3.2" width="2" height="1.8" fill="#3d68a5"/><rect x="6" y="5.8" width="2" height="5.2" fill="#3d68a5"/></svg></div>
<div class="hl" style="left:408px;top:108px;width:757px"></div>
<div class="cell" style="left:544px;top:85px;width:40px;color:#000"><span>3</span></div>
<div class="cell" style="left:584px;top:85px;width:94px;color:#000"><span>CH11228</span></div>
<div class="cell" style="left:678px;top:85px;width:37px;color:#000"><span>7</span></div>
<div class="cell" style="left:715px;top:85px;width:106px;color:#000"><span>CH11228</span></div>
<div class="cell" style="left:821px;top:85px;width:127px;color:#000"><span>CAMSHAFT BUSH</span></div>
<div class="ic" style="left:415px;top:91px"><svg width="10" height="10" viewBox="0 0 10 10"><path d="M8.60,4.14 L9.94,4.22 L9.94,5.78 L8.60,5.86 L8.15,6.93 L9.05,7.94 L7.94,9.05 L6.93,8.15 L5.86,8.60 L5.78,9.94 L4.22,9.94 L4.14,8.60 L3.07,8.15 L2.06,9.05 L0.95,7.94 L1.85,6.93 L1.40,5.86 L0.06,5.78 L0.06,4.22 L1.40,4.14 L1.85,3.07 L0.95,2.06 L2.06,0.95 L3.07,1.85 L4.14,1.40 L4.22,0.06 L5.78,0.06 L5.86,1.40 L6.93,1.85 L7.94,0.95 L9.05,2.06 L8.15,3.07Z" fill="#7db733"/><circle cx="5" cy="5" r="3.9" fill="#7db733"/><circle cx="5" cy="5" r="1.4" fill="#eef8e0"/></svg></div>
<div class="ic" style="left:430px;top:89px"><svg width="16" height="14" viewBox="0 0 16 14"><path d="M0.3,0.5 L2.8,2.2" stroke="#44689a" stroke-width="1.6" fill="none"/><path d="M2.3,2.2 H15.8 L13.6,7.6 H4 Z" fill="#4d74a8"/><g fill="#e8eef7"><rect x="4.3" y="3.4" width="1.3" height="1.4"/><rect x="6.6" y="3.4" width="1.3" height="1.4"/><rect x="8.9" y="3.4" width="1.3" height="1.4"/><rect x="11.2" y="3.4" width="1.3" height="1.4"/><rect x="13.3" y="3.4" width="1.1" height="1.4"/><rect x="4.8" y="5.6" width="1.3" height="1.2"/><rect x="7.1" y="5.6" width="1.3" height="1.2"/><rect x="9.4" y="5.6" width="1.3" height="1.2"/><rect x="11.7" y="5.6" width="1.2" height="1.2"/></g><path d="M3.2,4 L4,10.6 H14.6" stroke="#44689a" stroke-width="1.3" fill="none"/><circle cx="5.2" cy="12.3" r="1.05" fill="#3a8ee6"/><circle cx="13" cy="12.3" r="1.05" fill="#3a8ee6"/></svg></div>
<div class="ic" style="left:449px;top:89px"><svg width="14" height="14" viewBox="0 0 14 14"><circle cx="7" cy="7" r="6.5" fill="url(#ig)" stroke="#a8c6e4" stroke-width="0.8"/><rect x="6" y="3.2" width="2" height="1.8" fill="#3d68a5"/><rect x="6" y="5.8" width="2" height="5.2" fill="#3d68a5"/></svg></div>
<div class="hl" style="left:408px;top:132px;width:757px"></div>
<div class="cell" style="left:544px;top:109px;width:40px;color:#000"><span>4</span></div>
<div class="cell" style="left:584px;top:109px;width:94px;color:#000"><span>CH10722</span></div>
<div class="cell" style="left:678px;top:109px;width:37px;color:#000"><span>10</span></div>
<div class="cell" style="left:715px;top:109px;width:106px;color:#000"><span>CH10722</span></div>
<div class="cell" style="left:821px;top:109px;width:127px;color:#000"><span>PLUG</span></div>
<div class="ic" style="left:415px;top:115px"><svg width="10" height="10" viewBox="0 0 10 10"><path d="M8.60,4.14 L9.94,4.22 L9.94,5.78 L8.60,5.86 L8.15,6.93 L9.05,7.94 L7.94,9.05 L6.93,8.15 L5.86,8.60 L5.78,9.94 L4.22,9.94 L4.14,8.60 L3.07,8.15 L2.06,9.05 L0.95,7.94 L1.85,6.93 L1.40,5.86 L0.06,5.78 L0.06,4.22 L1.40,4.14 L1.85,3.07 L0.95,2.06 L2.06,0.95 L3.07,1.85 L4.14,1.40 L4.22,0.06 L5.78,0.06 L5.86,1.40 L6.93,1.85 L7.94,0.95 L9.05,2.06 L8.15,3.07Z" fill="#7db733"/><circle cx="5" cy="5" r="3.9" fill="#7db733"/><circle cx="5" cy="5" r="1.4" fill="#eef8e0"/></svg></div>
<div class="ic" style="left:430px;top:113px"><svg width="16" height="14" viewBox="0 0 16 14"><path d="M0.3,0.5 L2.8,2.2" stroke="#44689a" stroke-width="1.6" fill="none"/><path d="M2.3,2.2 H15.8 L13.6,7.6 H4 Z" fill="#4d74a8"/><g fill="#e8eef7"><rect x="4.3" y="3.4" width="1.3" height="1.4"/><rect x="6.6" y="3.4" width="1.3" height="1.4"/><rect x="8.9" y="3.4" width="1.3" height="1.4"/><rect x="11.2" y="3.4" width="1.3" height="1.4"/><rect x="13.3" y="3.4" width="1.1" height="1.4"/><rect x="4.8" y="5.6" width="1.3" height="1.2"/><rect x="7.1" y="5.6" width="1.3" height="1.2"/><rect x="9.4" y="5.6" width="1.3" height="1.2"/><rect x="11.7" y="5.6" width="1.2" height="1.2"/></g><path d="M3.2,4 L4,10.6 H14.6" stroke="#44689a" stroke-width="1.3" fill="none"/><circle cx="5.2" cy="12.3" r="1.05" fill="#3a8ee6"/><circle cx="13" cy="12.3" r="1.05" fill="#3a8ee6"/></svg></div>
<div class="ic" style="left:449px;top:113px"><svg width="14" height="14" viewBox="0 0 14 14"><circle cx="7" cy="7" r="6.5" fill="url(#ig)" stroke="#a8c6e4" stroke-width="0.8"/><rect x="6" y="3.2" width="2" height="1.8" fill="#3d68a5"/><rect x="6" y="5.8" width="2" height="5.2" fill="#3d68a5"/></svg></div>
<div class="hl" style="left:408px;top:156px;width:757px"></div>
<div class="cell" style="left:544px;top:133px;width:40px;color:#000"><span>5</span></div>
<div class="cell" style="left:584px;top:133px;width:94px;color:#000"><span>CH10722</span></div>
<div class="cell" style="left:678px;top:133px;width:37px;color:#000"><span>10</span></div>
<div class="cell" style="left:715px;top:133px;width:106px;color:#000"><span>CH10722</span></div>
<div class="cell" style="left:821px;top:133px;width:127px;color:#000"><span>PLUG</span></div>
<div class="ic" style="left:415px;top:139px"><svg width="10" height="10" viewBox="0 0 10 10"><path d="M8.60,4.14 L9.94,4.22 L9.94,5.78 L8.60,5.86 L8.15,6.93 L9.05,7.94 L7.94,9.05 L6.93,8.15 L5.86,8.60 L5.78,9.94 L4.22,9.94 L4.14,8.60 L3.07,8.15 L2.06,9.05 L0.95,7.94 L1.85,6.93 L1.40,5.86 L0.06,5.78 L0.06,4.22 L1.40,4.14 L1.85,3.07 L0.95,2.06 L2.06,0.95 L3.07,1.85 L4.14,1.40 L4.22,0.06 L5.78,0.06 L5.86,1.40 L6.93,1.85 L7.94,0.95 L9.05,2.06 L8.15,3.07Z" fill="#7db733"/><circle cx="5" cy="5" r="3.9" fill="#7db733"/><circle cx="5" cy="5" r="1.4" fill="#eef8e0"/></svg></div>
<div class="ic" style="left:430px;top:137px"><svg width="16" height="14" viewBox="0 0 16 14"><path d="M0.3,0.5 L2.8,2.2" stroke="#44689a" stroke-width="1.6" fill="none"/><path d="M2.3,2.2 H15.8 L13.6,7.6 H4 Z" fill="#4d74a8"/><g fill="#e8eef7"><rect x="4.3" y="3.4" width="1.3" height="1.4"/><rect x="6.6" y="3.4" width="1.3" height="1.4"/><rect x="8.9" y="3.4" width="1.3" height="1.4"/><rect x="11.2" y="3.4" width="1.3" height="1.4"/><rect x="13.3" y="3.4" width="1.1" height="1.4"/><rect x="4.8" y="5.6" width="1.3" height="1.2"/><rect x="7.1" y="5.6" width="1.3" height="1.2"/><rect x="9.4" y="5.6" width="1.3" height="1.2"/><rect x="11.7" y="5.6" width="1.2" height="1.2"/></g><path d="M3.2,4 L4,10.6 H14.6" stroke="#44689a" stroke-width="1.3" fill="none"/><circle cx="5.2" cy="12.3" r="1.05" fill="#3a8ee6"/><circle cx="13" cy="12.3" r="1.05" fill="#3a8ee6"/></svg></div>
<div class="ic" style="left:449px;top:137px"><svg width="14" height="14" viewBox="0 0 14 14"><circle cx="7" cy="7" r="6.5" fill="url(#ig)" stroke="#a8c6e4" stroke-width="0.8"/><rect x="6" y="3.2" width="2" height="1.8" fill="#3d68a5"/><rect x="6" y="5.8" width="2" height="5.2" fill="#3d68a5"/></svg></div>
<div class="hl" style="left:408px;top:180px;width:757px"></div>
<div class="cell" style="left:544px;top:157px;width:40px;color:#000"><span>6</span></div>
<div class="cell" style="left:584px;top:157px;width:94px;color:#000"><span>CH10032</span></div>
<div class="cell" style="left:678px;top:157px;width:37px;color:#000"><span>12</span></div>
<div class="cell" style="left:715px;top:157px;width:106px;color:#000"><span>CH10032</span></div>
<div class="cell" style="left:821px;top:157px;width:127px;color:#000"><span>PLUG</span></div>
<div class="ic" style="left:415px;top:163px"><svg width="10" height="10" viewBox="0 0 10 10"><path d="M8.60,4.14 L9.94,4.22 L9.94,5.78 L8.60,5.86 L8.15,6.93 L9.05,7.94 L7.94,9.05 L6.93,8.15 L5.86,8.60 L5.78,9.94 L4.22,9.94 L4.14,8.60 L3.07,8.15 L2.06,9.05 L0.95,7.94 L1.85,6.93 L1.40,5.86 L0.06,5.78 L0.06,4.22 L1.40,4.14 L1.85,3.07 L0.95,2.06 L2.06,0.95 L3.07,1.85 L4.14,1.40 L4.22,0.06 L5.78,0.06 L5.86,1.40 L6.93,1.85 L7.94,0.95 L9.05,2.06 L8.15,3.07Z" fill="#7db733"/><circle cx="5" cy="5" r="3.9" fill="#7db733"/><circle cx="5" cy="5" r="1.4" fill="#eef8e0"/></svg></div>
<div class="ic" style="left:430px;top:161px"><svg width="16" height="14" viewBox="0 0 16 14"><path d="M0.3,0.5 L2.8,2.2" stroke="#44689a" stroke-width="1.6" fill="none"/><path d="M2.3,2.2 H15.8 L13.6,7.6 H4 Z" fill="#4d74a8"/><g fill="#e8eef7"><rect x="4.3" y="3.4" width="1.3" height="1.4"/><rect x="6.6" y="3.4" width="1.3" height="1.4"/><rect x="8.9" y="3.4" width="1.3" height="1.4"/><rect x="11.2" y="3.4" width="1.3" height="1.4"/><rect x="13.3" y="3.4" width="1.1" height="1.4"/><rect x="4.8" y="5.6" width="1.3" height="1.2"/><rect x="7.1" y="5.6" width="1.3" height="1.2"/><rect x="9.4" y="5.6" width="1.3" height="1.2"/><rect x="11.7" y="5.6" width="1.2" height="1.2"/></g><path d="M3.2,4 L4,10.6 H14.6" stroke="#44689a" stroke-width="1.3" fill="none"/><circle cx="5.2" cy="12.3" r="1.05" fill="#3a8ee6"/><circle cx="13" cy="12.3" r="1.05" fill="#3a8ee6"/></svg></div>
<div class="ic" style="left:449px;top:161px"><svg width="14" height="14" viewBox="0 0 14 14"><circle cx="7" cy="7" r="6.5" fill="url(#ig)" stroke="#a8c6e4" stroke-width="0.8"/><rect x="6" y="3.2" width="2" height="1.8" fill="#3d68a5"/><rect x="6" y="5.8" width="2" height="5.2" fill="#3d68a5"/></svg></div>
<div class="hl" style="left:408px;top:204px;width:757px"></div>
<div class="cell" style="left:544px;top:181px;width:40px;color:#000"><span>7</span></div>
<div class="cell" style="left:584px;top:181px;width:94px;color:#000"><span>CH10032</span></div>
<div class="cell" style="left:678px;top:181px;width:37px;color:#000"><span>5</span></div>
<div class="cell" style="left:715px;top:181px;width:106px;color:#000"><span>CH10032</span></div>
<div class="cell" style="left:821px;top:181px;width:127px;color:#000"><span>PLUG</span></div>
<div class="ic" style="left:415px;top:187px"><svg width="10" height="10" viewBox="0 0 10 10"><path d="M8.60,4.14 L9.94,4.22 L9.94,5.78 L8.60,5.86 L8.15,6.93 L9.05,7.94 L7.94,9.05 L6.93,8.15 L5.86,8.60 L5.78,9.94 L4.22,9.94 L4.14,8.60 L3.07,8.15 L2.06,9.05 L0.95,7.94 L1.85,6.93 L1.40,5.86 L0.06,5.78 L0.06,4.22 L1.40,4.14 L1.85,3.07 L0.95,2.06 L2.06,0.95 L3.07,1.85 L4.14,1.40 L4.22,0.06 L5.78,0.06 L5.86,1.40 L6.93,1.85 L7.94,0.95 L9.05,2.06 L8.15,3.07Z" fill="#7db733"/><circle cx="5" cy="5" r="3.9" fill="#7db733"/><circle cx="5" cy="5" r="1.4" fill="#eef8e0"/></svg></div>
<div class="ic" style="left:430px;top:185px"><svg width="16" height="14" viewBox="0 0 16 14"><path d="M0.3,0.5 L2.8,2.2" stroke="#44689a" stroke-width="1.6" fill="none"/><path d="M2.3,2.2 H15.8 L13.6,7.6 H4 Z" fill="#4d74a8"/><g fill="#e8eef7"><rect x="4.3" y="3.4" width="1.3" height="1.4"/><rect x="6.6" y="3.4" width="1.3" height="1.4"/><rect x="8.9" y="3.4" width="1.3" height="1.4"/><rect x="11.2" y="3.4" width="1.3" height="1.4"/><rect x="13.3" y="3.4" width="1.1" height="1.4"/><rect x="4.8" y="5.6" width="1.3" height="1.2"/><rect x="7.1" y="5.6" width="1.3" height="1.2"/><rect x="9.4" y="5.6" width="1.3" height="1.2"/><rect x="11.7" y="5.6" width="1.2" height="1.2"/></g><path d="M3.2,4 L4,10.6 H14.6" stroke="#44689a" stroke-width="1.3" fill="none"/><circle cx="5.2" cy="12.3" r="1.05" fill="#3a8ee6"/><circle cx="13" cy="12.3" r="1.05" fill="#3a8ee6"/></svg></div>
<div class="ic" style="left:449px;top:185px"><svg width="14" height="14" viewBox="0 0 14 14"><circle cx="7" cy="7" r="6.5" fill="url(#ig)" stroke="#a8c6e4" stroke-width="0.8"/><rect x="6" y="3.2" width="2" height="1.8" fill="#3d68a5"/><rect x="6" y="5.8" width="2" height="5.2" fill="#3d68a5"/></svg></div>
<div class="hl" style="left:408px;top:228px;width:757px"></div>
<div class="cell" style="left:544px;top:205px;width:40px;color:#000"><span>8</span></div>
<div class="cell" style="left:584px;top:205px;width:94px;color:#000"><span>CH10724</span></div>
<div class="cell" style="left:678px;top:205px;width:37px;color:#000"><span>24</span></div>
<div class="cell" style="left:715px;top:205px;width:106px;color:#000"><span>CH10724</span></div>
<div class="cell" style="left:821px;top:205px;width:127px;color:#000"><span>VALVE GUIDE</span></div>
<div class="ic" style="left:415px;top:211px"><svg width="10" height="10" viewBox="0 0 10 10"><path d="M8.60,4.14 L9.94,4.22 L9.94,5.78 L8.60,5.86 L8.15,6.93 L9.05,7.94 L7.94,9.05 L6.93,8.15 L5.86,8.60 L5.78,9.94 L4.22,9.94 L4.14,8.60 L3.07,8.15 L2.06,9.05 L0.95,7.94 L1.85,6.93 L1.40,5.86 L0.06,5.78 L0.06,4.22 L1.40,4.14 L1.85,3.07 L0.95,2.06 L2.06,0.95 L3.07,1.85 L4.14,1.40 L4.22,0.06 L5.78,0.06 L5.86,1.40 L6.93,1.85 L7.94,0.95 L9.05,2.06 L8.15,3.07Z" fill="#7db733"/><circle cx="5" cy="5" r="3.9" fill="#7db733"/><circle cx="5" cy="5" r="1.4" fill="#eef8e0"/></svg></div>
<div class="ic" style="left:430px;top:209px"><svg width="16" height="14" viewBox="0 0 16 14"><path d="M0.3,0.5 L2.8,2.2" stroke="#44689a" stroke-width="1.6" fill="none"/><path d="M2.3,2.2 H15.8 L13.6,7.6 H4 Z" fill="#4d74a8"/><g fill="#e8eef7"><rect x="4.3" y="3.4" width="1.3" height="1.4"/><rect x="6.6" y="3.4" width="1.3" height="1.4"/><rect x="8.9" y="3.4" width="1.3" height="1.4"/><rect x="11.2" y="3.4" width="1.3" height="1.4"/><rect x="13.3" y="3.4" width="1.1" height="1.4"/><rect x="4.8" y="5.6" width="1.3" height="1.2"/><rect x="7.1" y="5.6" width="1.3" height="1.2"/><rect x="9.4" y="5.6" width="1.3" height="1.2"/><rect x="11.7" y="5.6" width="1.2" height="1.2"/></g><path d="M3.2,4 L4,10.6 H14.6" stroke="#44689a" stroke-width="1.3" fill="none"/><circle cx="5.2" cy="12.3" r="1.05" fill="#3a8ee6"/><circle cx="13" cy="12.3" r="1.05" fill="#3a8ee6"/></svg></div>
<div class="ic" style="left:449px;top:209px"><svg width="14" height="14" viewBox="0 0 14 14"><circle cx="7" cy="7" r="6.5" fill="url(#ig)" stroke="#a8c6e4" stroke-width="0.8"/><rect x="6" y="3.2" width="2" height="1.8" fill="#3d68a5"/><rect x="6" y="5.8" width="2" height="5.2" fill="#3d68a5"/></svg></div>
<div class="hl" style="left:408px;top:252px;width:757px"></div>
<div class="cell" style="left:544px;top:229px;width:40px;color:#000"><span>9</span></div>
<div class="cell" style="left:584px;top:229px;width:94px;color:#000"><span>CH12582</span></div>
<div class="cell" style="left:678px;top:229px;width:37px;color:#000"><span>6</span></div>
<div class="cell" style="left:715px;top:229px;width:106px;color:#000"><span>CH12582</span></div>
<div class="cell" style="left:821px;top:229px;width:127px;color:#000"><span>SLEEVE</span></div>
<div class="ic" style="left:415px;top:235px"><svg width="10" height="10" viewBox="0 0 10 10"><path d="M8.60,4.14 L9.94,4.22 L9.94,5.78 L8.60,5.86 L8.15,6.93 L9.05,7.94 L7.94,9.05 L6.93,8.15 L5.86,8.60 L5.78,9.94 L4.22,9.94 L4.14,8.60 L3.07,8.15 L2.06,9.05 L0.95,7.94 L1.85,6.93 L1.40,5.86 L0.06,5.78 L0.06,4.22 L1.40,4.14 L1.85,3.07 L0.95,2.06 L2.06,0.95 L3.07,1.85 L4.14,1.40 L4.22,0.06 L5.78,0.06 L5.86,1.40 L6.93,1.85 L7.94,0.95 L9.05,2.06 L8.15,3.07Z" fill="#7db733"/><circle cx="5" cy="5" r="3.9" fill="#7db733"/><circle cx="5" cy="5" r="1.4" fill="#eef8e0"/></svg></div>
<div class="ic" style="left:430px;top:233px"><svg width="16" height="14" viewBox="0 0 16 14"><path d="M0.3,0.5 L2.8,2.2" stroke="#44689a" stroke-width="1.6" fill="none"/><path d="M2.3,2.2 H15.8 L13.6,7.6 H4 Z" fill="#4d74a8"/><g fill="#e8eef7"><rect x="4.3" y="3.4" width="1.3" height="1.4"/><rect x="6.6" y="3.4" width="1.3" height="1.4"/><rect x="8.9" y="3.4" width="1.3" height="1.4"/><rect x="11.2" y="3.4" width="1.3" height="1.4"/><rect x="13.3" y="3.4" width="1.1" height="1.4"/><rect x="4.8" y="5.6" width="1.3" height="1.2"/><rect x="7.1" y="5.6" width="1.3" height="1.2"/><rect x="9.4" y="5.6" width="1.3" height="1.2"/><rect x="11.7" y="5.6" width="1.2" height="1.2"/></g><path d="M3.2,4 L4,10.6 H14.6" stroke="#44689a" stroke-width="1.3" fill="none"/><circle cx="5.2" cy="12.3" r="1.05" fill="#3a8ee6"/><circle cx="13" cy="12.3" r="1.05" fill="#3a8ee6"/></svg></div>
<div class="ic" style="left:449px;top:233px"><svg width="14" height="14" viewBox="0 0 14 14"><circle cx="7" cy="7" r="6.5" fill="url(#ig)" stroke="#a8c6e4" stroke-width="0.8"/><rect x="6" y="3.2" width="2" height="1.8" fill="#3d68a5"/><rect x="6" y="5.8" width="2" height="5.2" fill="#3d68a5"/></svg></div>
<div class="hl" style="left:408px;top:276px;width:757px"></div>
<div class="cell" style="left:544px;top:253px;width:40px;color:#000"><span>10</span></div>
<div class="cell" style="left:584px;top:253px;width:94px;color:#000"><span>CH10727</span></div>
<div class="cell" style="left:678px;top:253px;width:37px;color:#000"><span>12</span></div>
<div class="cell" style="left:715px;top:253px;width:106px;color:#000"><span>CH10727</span></div>
<div class="cell" style="left:821px;top:253px;width:127px;color:#000"><span>SEAL - O RING</span></div>
<div class="ic" style="left:415px;top:259px"><svg width="10" height="10" viewBox="0 0 10 10"><path d="M8.60,4.14 L9.94,4.22 L9.94,5.78 L8.60,5.86 L8.15,6.93 L9.05,7.94 L7.94,9.05 L6.93,8.15 L5.86,8.60 L5.78,9.94 L4.22,9.94 L4.14,8.60 L3.07,8.15 L2.06,9.05 L0.95,7.94 L1.85,6.93 L1.40,5.86 L0.06,5.78 L0.06,4.22 L1.40,4.14 L1.85,3.07 L0.95,2.06 L2.06,0.95 L3.07,1.85 L4.14,1.40 L4.22,0.06 L5.78,0.06 L5.86,1.40 L6.93,1.85 L7.94,0.95 L9.05,2.06 L8.15,3.07Z" fill="#7db733"/><circle cx="5" cy="5" r="3.9" fill="#7db733"/><circle cx="5" cy="5" r="1.4" fill="#eef8e0"/></svg></div>
<div class="ic" style="left:430px;top:257px"><svg width="16" height="14" viewBox="0 0 16 14"><path d="M0.3,0.5 L2.8,2.2" stroke="#44689a" stroke-width="1.6" fill="none"/><path d="M2.3,2.2 H15.8 L13.6,7.6 H4 Z" fill="#4d74a8"/><g fill="#e8eef7"><rect x="4.3" y="3.4" width="1.3" height="1.4"/><rect x="6.6" y="3.4" width="1.3" height="1.4"/><rect x="8.9" y="3.4" width="1.3" height="1.4"/><rect x="11.2" y="3.4" width="1.3" height="1.4"/><rect x="13.3" y="3.4" width="1.1" height="1.4"/><rect x="4.8" y="5.6" width="1.3" height="1.2"/><rect x="7.1" y="5.6" width="1.3" height="1.2"/><rect x="9.4" y="5.6" width="1.3" height="1.2"/><rect x="11.7" y="5.6" width="1.2" height="1.2"/></g><path d="M3.2,4 L4,10.6 H14.6" stroke="#44689a" stroke-width="1.3" fill="none"/><circle cx="5.2" cy="12.3" r="1.05" fill="#3a8ee6"/><circle cx="13" cy="12.3" r="1.05" fill="#3a8ee6"/></svg></div>
<div class="ic" style="left:449px;top:257px"><svg width="14" height="14" viewBox="0 0 14 14"><circle cx="7" cy="7" r="6.5" fill="url(#ig)" stroke="#a8c6e4" stroke-width="0.8"/><rect x="6" y="3.2" width="2" height="1.8" fill="#3d68a5"/><rect x="6" y="5.8" width="2" height="5.2" fill="#3d68a5"/></svg></div>
<div class="hl" style="left:408px;top:300px;width:757px"></div>
<div class="cell" style="left:544px;top:277px;width:40px;color:#000"><span>11</span></div>
<div class="cell" style="left:584px;top:277px;width:94px;color:#000"><span>CH10723</span></div>
<div class="cell" style="left:678px;top:277px;width:37px;color:#000"><span>6</span></div>
<div class="cell" style="left:715px;top:277px;width:106px;color:#000"><span>CH10723</span></div>
<div class="cell" style="left:821px;top:277px;width:127px;color:#000"><span>SEAL - O RING</span></div>
<div class="ic" style="left:415px;top:283px"><svg width="10" height="10" viewBox="0 0 10 10"><path d="M8.60,4.14 L9.94,4.22 L9.94,5.78 L8.60,5.86 L8.15,6.93 L9.05,7.94 L7.94,9.05 L6.93,8.15 L5.86,8.60 L5.78,9.94 L4.22,9.94 L4.14,8.60 L3.07,8.15 L2.06,9.05 L0.95,7.94 L1.85,6.93 L1.40,5.86 L0.06,5.78 L0.06,4.22 L1.40,4.14 L1.85,3.07 L0.95,2.06 L2.06,0.95 L3.07,1.85 L4.14,1.40 L4.22,0.06 L5.78,0.06 L5.86,1.40 L6.93,1.85 L7.94,0.95 L9.05,2.06 L8.15,3.07Z" fill="#7db733"/><circle cx="5" cy="5" r="3.9" fill="#7db733"/><circle cx="5" cy="5" r="1.4" fill="#eef8e0"/></svg></div>
<div class="ic" style="left:430px;top:281px"><svg width="16" height="14" viewBox="0 0 16 14"><path d="M0.3,0.5 L2.8,2.2" stroke="#44689a" stroke-width="1.6" fill="none"/><path d="M2.3,2.2 H15.8 L13.6,7.6 H4 Z" fill="#4d74a8"/><g fill="#e8eef7"><rect x="4.3" y="3.4" width="1.3" height="1.4"/><rect x="6.6" y="3.4" width="1.3" height="1.4"/><rect x="8.9" y="3.4" width="1.3" height="1.4"/><rect x="11.2" y="3.4" width="1.3" height="1.4"/><rect x="13.3" y="3.4" width="1.1" height="1.4"/><rect x="4.8" y="5.6" width="1.3" height="1.2"/><rect x="7.1" y="5.6" width="1.3" height="1.2"/><rect x="9.4" y="5.6" width="1.3" height="1.2"/><rect x="11.7" y="5.6" width="1.2" height="1.2"/></g><path d="M3.2,4 L4,10.6 H14.6" stroke="#44689a" stroke-width="1.3" fill="none"/><circle cx="5.2" cy="12.3" r="1.05" fill="#3a8ee6"/><circle cx="13" cy="12.3" r="1.05" fill="#3a8ee6"/></svg></div>
<div class="ic" style="left:449px;top:281px"><svg width="14" height="14" viewBox="0 0 14 14"><circle cx="7" cy="7" r="6.5" fill="url(#ig)" stroke="#a8c6e4" stroke-width="0.8"/><rect x="6" y="3.2" width="2" height="1.8" fill="#3d68a5"/><rect x="6" y="5.8" width="2" height="5.2" fill="#3d68a5"/></svg></div>
<div class="sel" style="top:301px"></div>
<div class="abs" style="left:532px;top:303px;width:100px;height:21px;background:rgba(255,255,255,0.7)"></div>
<div class="hl" style="left:408px;top:324px;width:757px"></div>
<div class="cell" style="left:544px;top:301px;width:40px;color:#fff"><span>12</span></div>
<div class="cell" style="left:584px;top:301px;width:94px;color:#fff"><span>T402865</span></div>
<div class="cell" style="left:678px;top:301px;width:37px;color:#fff"><span>12</span></div>
<div class="cell" style="left:715px;top:301px;width:106px;color:#fff"><span>T402865</span></div>
<div class="cell" style="left:821px;top:301px;width:127px;color:#fff"><span>VALVE SEAT INSERT</span></div>
<div class="ic" style="left:415px;top:307px"><svg width="10" height="10" viewBox="0 0 10 10"><path d="M8.60,4.14 L9.94,4.22 L9.94,5.78 L8.60,5.86 L8.15,6.93 L9.05,7.94 L7.94,9.05 L6.93,8.15 L5.86,8.60 L5.78,9.94 L4.22,9.94 L4.14,8.60 L3.07,8.15 L2.06,9.05 L0.95,7.94 L1.85,6.93 L1.40,5.86 L0.06,5.78 L0.06,4.22 L1.40,4.14 L1.85,3.07 L0.95,2.06 L2.06,0.95 L3.07,1.85 L4.14,1.40 L4.22,0.06 L5.78,0.06 L5.86,1.40 L6.93,1.85 L7.94,0.95 L9.05,2.06 L8.15,3.07Z" fill="#7db733"/><circle cx="5" cy="5" r="3.9" fill="#7db733"/><circle cx="5" cy="5" r="1.4" fill="#eef8e0"/></svg></div>
<div class="ic" style="left:430px;top:305px"><svg width="16" height="14" viewBox="0 0 16 14"><path d="M0.3,0.5 L2.8,2.2" stroke="#8a96a6" stroke-width="1.6" fill="none"/><path d="M2.3,2.2 H15.8 L13.6,7.6 H4 Z" fill="#8c98a8"/><g fill="#ffffff"><rect x="4.3" y="3.4" width="1.3" height="1.4"/><rect x="6.6" y="3.4" width="1.3" height="1.4"/><rect x="8.9" y="3.4" width="1.3" height="1.4"/><rect x="11.2" y="3.4" width="1.3" height="1.4"/><rect x="13.3" y="3.4" width="1.1" height="1.4"/><rect x="4.8" y="5.6" width="1.3" height="1.2"/><rect x="7.1" y="5.6" width="1.3" height="1.2"/><rect x="9.4" y="5.6" width="1.3" height="1.2"/><rect x="11.7" y="5.6" width="1.2" height="1.2"/></g><path d="M3.2,4 L4,10.6 H14.6" stroke="#8a96a6" stroke-width="1.3" fill="none"/><circle cx="5.2" cy="12.3" r="1.05" fill="#3a8ee6"/><circle cx="13" cy="12.3" r="1.05" fill="#3a8ee6"/></svg></div>
<div class="ic" style="left:449px;top:305px"><svg width="14" height="14" viewBox="0 0 14 14"><circle cx="7" cy="7" r="6.5" fill="url(#ig)" stroke="#a8c6e4" stroke-width="0.8"/><rect x="6" y="3.2" width="2" height="1.8" fill="#3d68a5"/><rect x="6" y="5.8" width="2" height="5.2" fill="#3d68a5"/></svg></div>
<div class="hl" style="left:408px;top:348px;width:757px"></div>
<div class="cell" style="left:544px;top:325px;width:40px;color:#000"><span>13</span></div>
<div class="cell" style="left:584px;top:325px;width:94px;color:#000"><span>T402866</span></div>
<div class="cell" style="left:678px;top:325px;width:37px;color:#000"><span>12</span></div>
<div class="cell" style="left:715px;top:325px;width:106px;color:#000"><span>T402866</span></div>
<div class="cell" style="left:821px;top:325px;width:127px;color:#000"><span>VALVE SEAT INSERT</span></div>
<div class="ic" style="left:415px;top:331px"><svg width="10" height="10" viewBox="0 0 10 10"><path d="M8.60,4.14 L9.94,4.22 L9.94,5.78 L8.60,5.86 L8.15,6.93 L9.05,7.94 L7.94,9.05 L6.93,8.15 L5.86,8.60 L5.78,9.94 L4.22,9.94 L4.14,8.60 L3.07,8.15 L2.06,9.05 L0.95,7.94 L1.85,6.93 L1.40,5.86 L0.06,5.78 L0.06,4.22 L1.40,4.14 L1.85,3.07 L0.95,2.06 L2.06,0.95 L3.07,1.85 L4.14,1.40 L4.22,0.06 L5.78,0.06 L5.86,1.40 L6.93,1.85 L7.94,0.95 L9.05,2.06 L8.15,3.07Z" fill="#7db733"/><circle cx="5" cy="5" r="3.9" fill="#7db733"/><circle cx="5" cy="5" r="1.4" fill="#eef8e0"/></svg></div>
<div class="ic" style="left:430px;top:329px"><svg width="16" height="14" viewBox="0 0 16 14"><path d="M0.3,0.5 L2.8,2.2" stroke="#44689a" stroke-width="1.6" fill="none"/><path d="M2.3,2.2 H15.8 L13.6,7.6 H4 Z" fill="#4d74a8"/><g fill="#e8eef7"><rect x="4.3" y="3.4" width="1.3" height="1.4"/><rect x="6.6" y="3.4" width="1.3" height="1.4"/><rect x="8.9" y="3.4" width="1.3" height="1.4"/><rect x="11.2" y="3.4" width="1.3" height="1.4"/><rect x="13.3" y="3.4" width="1.1" height="1.4"/><rect x="4.8" y="5.6" width="1.3" height="1.2"/><rect x="7.1" y="5.6" width="1.3" height="1.2"/><rect x="9.4" y="5.6" width="1.3" height="1.2"/><rect x="11.7" y="5.6" width="1.2" height="1.2"/></g><path d="M3.2,4 L4,10.6 H14.6" stroke="#44689a" stroke-width="1.3" fill="none"/><circle cx="5.2" cy="12.3" r="1.05" fill="#3a8ee6"/><circle cx="13" cy="12.3" r="1.05" fill="#3a8ee6"/></svg></div>
<div class="ic" style="left:449px;top:329px"><svg width="14" height="14" viewBox="0 0 14 14"><circle cx="7" cy="7" r="6.5" fill="url(#ig)" stroke="#a8c6e4" stroke-width="0.8"/><rect x="6" y="3.2" width="2" height="1.8" fill="#3d68a5"/><rect x="6" y="5.8" width="2" height="5.2" fill="#3d68a5"/></svg></div>
<div class="hl" style="left:408px;top:372px;width:757px"></div>
<div class="cell" style="left:544px;top:349px;width:40px;color:#000"><span>14</span></div>
<div class="cell" style="left:584px;top:349px;width:94px;color:#000"><span>CH10258</span></div>
<div class="cell" style="left:678px;top:349px;width:37px;color:#000"><span>3</span></div>
<div class="cell" style="left:715px;top:349px;width:106px;color:#000"><span>CH10258</span></div>
<div class="cell" style="left:821px;top:349px;width:127px;color:#000"><span>PLUG</span></div>
<div class="ic" style="left:415px;top:355px"><svg width="10" height="10" viewBox="0 0 10 10"><path d="M8.60,4.14 L9.94,4.22 L9.94,5.78 L8.60,5.86 L8.15,6.93 L9.05,7.94 L7.94,9.05 L6.93,8.15 L5.86,8.60 L5.78,9.94 L4.22,9.94 L4.14,8.60 L3.07,8.15 L2.06,9.05 L0.95,7.94 L1.85,6.93 L1.40,5.86 L0.06,5.78 L0.06,4.22 L1.40,4.14 L1.85,3.07 L0.95,2.06 L2.06,0.95 L3.07,1.85 L4.14,1.40 L4.22,0.06 L5.78,0.06 L5.86,1.40 L6.93,1.85 L7.94,0.95 L9.05,2.06 L8.15,3.07Z" fill="#7db733"/><circle cx="5" cy="5" r="3.9" fill="#7db733"/><circle cx="5" cy="5" r="1.4" fill="#eef8e0"/></svg></div>
<div class="ic" style="left:430px;top:353px"><svg width="16" height="14" viewBox="0 0 16 14"><path d="M0.3,0.5 L2.8,2.2" stroke="#44689a" stroke-width="1.6" fill="none"/><path d="M2.3,2.2 H15.8 L13.6,7.6 H4 Z" fill="#4d74a8"/><g fill="#e8eef7"><rect x="4.3" y="3.4" width="1.3" height="1.4"/><rect x="6.6" y="3.4" width="1.3" height="1.4"/><rect x="8.9" y="3.4" width="1.3" height="1.4"/><rect x="11.2" y="3.4" width="1.3" height="1.4"/><rect x="13.3" y="3.4" width="1.1" height="1.4"/><rect x="4.8" y="5.6" width="1.3" height="1.2"/><rect x="7.1" y="5.6" width="1.3" height="1.2"/><rect x="9.4" y="5.6" width="1.3" height="1.2"/><rect x="11.7" y="5.6" width="1.2" height="1.2"/></g><path d="M3.2,4 L4,10.6 H14.6" stroke="#44689a" stroke-width="1.3" fill="none"/><circle cx="5.2" cy="12.3" r="1.05" fill="#3a8ee6"/><circle cx="13" cy="12.3" r="1.05" fill="#3a8ee6"/></svg></div>
<div class="ic" style="left:449px;top:353px"><svg width="14" height="14" viewBox="0 0 14 14"><circle cx="7" cy="7" r="6.5" fill="url(#ig)" stroke="#a8c6e4" stroke-width="0.8"/><rect x="6" y="3.2" width="2" height="1.8" fill="#3d68a5"/><rect x="6" y="5.8" width="2" height="5.2" fill="#3d68a5"/></svg></div>
<div class="vl" style="left:469px;top:61px;height:312px"></div>
<div class="vl" style="left:544px;top:61px;height:312px"></div>
<div class="vl" style="left:584px;top:61px;height:312px"></div>
<div class="vl" style="left:678px;top:61px;height:312px"></div>
<div class="vl" style="left:715px;top:61px;height:312px"></div>
<div class="vl" style="left:821px;top:61px;height:312px"></div>
<div class="vl" style="left:948px;top:61px;height:312px"></div>
<div class="vl" style="left:1008px;top:61px;height:312px"></div>
<div class="vl" style="left:1056px;top:61px;height:312px"></div>

<svg class="abs" style="left:528px;top:302px" width="106" height="30" viewBox="528 302 106 30">
<g fill="#013a82" fill-opacity="0.9">
<rect x="534" y="308" width="28" height="3.6"/>
<rect x="539" y="306.5" width="3.6" height="8"/><rect x="552.5" y="306.5" width="3.6" height="8"/>
<rect x="538" y="314.5" width="20.5" height="3.2"/>
<rect x="538" y="314.5" width="3.6" height="8.5"/><rect x="554.8" y="314.5" width="3.6" height="8.5"/>
<rect x="546.3" y="312" width="3.8" height="11"/>
<rect x="534" y="321" width="28" height="3.4"/>
<path d="M545.5,323 L550,324 L540,330 L534,329.5 Z"/>
<path d="M549.5,323.5 L554.5,323 L562.5,328.5 L557.5,330 Z"/>
<path d="M578.5,306.5 L583,306.5 L594.5,317 L590,319 L580.8,310.5 L571.5,319 L567,317 Z"/>
<rect x="571.5" y="313" width="18" height="3.2"/>
<rect x="569" y="318.5" width="23" height="3.2"/>
<rect x="578.8" y="313.5" width="3.8" height="14.5"/>
<rect x="572" y="322" width="3.6" height="4"/><rect x="585.8" y="322" width="3.6" height="4"/>
<rect x="567.5" y="326" width="26" height="3.4"/>
<path d="M599.5,307.5 L603.5,306.8 L608.5,311.5 L606,314.5 Z"/>
<rect x="603.8" y="311.5" width="3.6" height="17.5"/>
<path d="M599.5,316 L609.5,312.5 L609.5,316 L600.5,319.5 Z"/>
<path d="M604,320 L607,322 L601.5,328.5 L599,327 Z"/>
<rect x="610" y="309.5" width="3.4" height="18.5"/>
<rect x="614.5" y="307.5" width="14.2" height="3.2"/>
<rect x="615" y="313" width="13.5" height="3"/>
<rect x="615" y="313" width="3.2" height="10.5"/><rect x="625.3" y="313" width="3.4" height="11"/>
<rect x="619.8" y="309" width="3.4" height="20"/>
</g>
</svg>

</body></html>
